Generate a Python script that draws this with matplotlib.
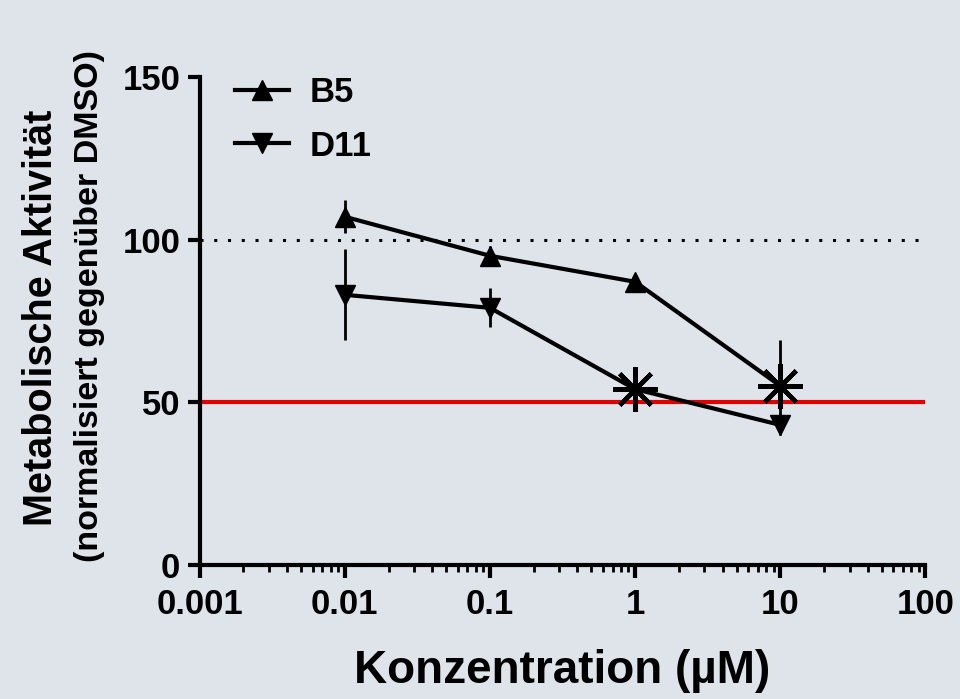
import matplotlib
matplotlib.use('Agg')
import matplotlib.pyplot as plt
from matplotlib.ticker import LogLocator, FixedLocator, NullFormatter, FixedFormatter

plt.rcParams['font.family'] = ['Liberation Sans', 'DejaVu Sans']
plt.rcParams['font.weight'] = 'bold'

BG = '#dfe3ea'

# ─── DATA ────────────────────────────────────────────────────────────────────
conc = [0.01, 0.1, 1, 10]
b5_mean = [107, 95, 87, 55]
b5_err = [5, 3, 2, 14]
b5_sig = [False, False, False, True]
d11_mean = [83, 79, 54, 43]
d11_err = [14, 6, 2, 3]
d11_sig = [False, False, True, False]

xticks = [0.001, 0.01, 0.1, 1, 10, 100]
xtick_labels = ['0.001', '0.01', '0.1', '1', '10', '100']
yticks = [0, 50, 100, 150]

# ─── DRAWING ─────────────────────────────────────────────────────────────────
fig = plt.figure(figsize=(9.6, 6.99), dpi=100, facecolor=BG)
ax = fig.add_axes([0.208, 0.192, 0.756, 0.698], facecolor=BG)

ax.axhline(100, color='black', linestyle=(0, (1, 3.5)), lw=2.2, zorder=1)
ax.axhline(50, color='#e00000', lw=3, zorder=1)


def plot_series(mean, err, sig, marker, label):
    ax.errorbar(conc, mean, yerr=err, fmt='none', ecolor='black',
                elinewidth=2, capsize=0, zorder=2)
    ax.plot(conc, mean, '-', color='black', lw=3, zorder=3)
    for x, y, s in zip(conc, mean, sig):
        if s:
            ax.plot(x, y, marker=(8, 2, 0), ms=32, mew=3.2,
                    color='black', zorder=4)
        else:
            ax.plot(x, y, marker=marker, ms=14, color='black', zorder=4)
    ax.plot([], [], '-', marker=marker, ms=14, color='black', lw=3,
            label=label)


plot_series(b5_mean, b5_err, b5_sig, '^', 'B5')
plot_series(d11_mean, d11_err, d11_sig, 'v', 'D11')

ax.set_xscale('log')
ax.set_xlim(0.001, 100)
ax.set_ylim(0, 150)
ax.xaxis.set_major_locator(FixedLocator(xticks))
ax.xaxis.set_major_formatter(FixedFormatter(xtick_labels))
ax.xaxis.set_minor_locator(LogLocator(base=10, subs=range(2, 10)))
ax.xaxis.set_minor_formatter(NullFormatter())
ax.set_yticks(yticks)

for side in ('top', 'right'):
    ax.spines[side].set_visible(False)
for side in ('left', 'bottom'):
    ax.spines[side].set_linewidth(3)

ax.tick_params(axis='both', which='major', direction='out', length=9,
               width=3, labelsize=25, pad=5)
ax.tick_params(axis='x', which='major', pad=8)
ax.tick_params(axis='x', which='minor', direction='out', length=5, width=2)
for lbl in ax.get_xticklabels() + ax.get_yticklabels():
    lbl.set_fontweight('bold')

xl = ax.set_xlabel('Konzentration (µM)', fontsize=33, fontweight='bold')
xl.set_va('baseline')
ax.xaxis.set_label_coords(0.5, -0.242)

# y label: two lines in different sizes, as in the original
fig.text(0.0542, 0.545, 'Metabolische Aktivität', rotation=90,
         rotation_mode='anchor', ha='center', va='baseline',
         fontsize=28.5, fontweight='bold')
fig.text(0.102, 0.562, '(normalisiert gegenüber DMSO)', rotation=90,
         rotation_mode='anchor', ha='center', va='baseline',
         fontsize=24.5, fontweight='bold')

leg = ax.legend(loc='upper left', bbox_to_anchor=(0.02, 1.045), frameon=False,
                fontsize=25, handlelength=1.55, handletextpad=0.6,
                labelspacing=0.6, borderaxespad=0.2)
for t in leg.get_texts():
    t.set_fontweight('bold')

fig.savefig('out.png', dpi=100, facecolor=BG)
